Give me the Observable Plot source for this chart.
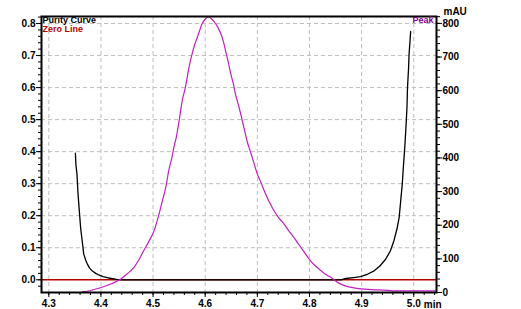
<!DOCTYPE html>
<html><head><meta charset="utf-8">
<script src="https://cdn.jsdelivr.net/npm/d3@7"></script>
<script src="https://cdn.jsdelivr.net/npm/@observablehq/plot@0.6"></script>
<style>body{margin:0;background:#fff}svg{display:block}</style>
</head><body><div id="chart"></div>
<script>
// Peak (right axis, mAU)
const peakTime = [4.364,4.380,4.399,4.420,4.438,4.450,4.463,4.472,4.482,4.492,4.502,4.510,4.518,4.525,4.530,4.536,4.540,4.545,4.550,4.556,4.562,4.569,4.575,4.580,4.585,4.590,4.594,4.600,4.606,4.612,4.620,4.625,4.630,4.635,4.639,4.644,4.649,4.654,4.658,4.665,4.671,4.676,4.681,4.686,4.690,4.695,4.700,4.707,4.713,4.722,4.732,4.741,4.751,4.760,4.770,4.778,4.786,4.794,4.802,4.812,4.822,4.832,4.841,4.850,4.860,4.870,4.885,4.905,4.925,4.943,4.960,5.000,5.042];
const peakMAU = [2,6,14,26,40,55,74,95,124,152,184,225,273,318,362,400,432,465,511,571,610,670,710,738,759,782,799,812,819,814,799,786,769,745,719,686,650,620,590,550,511,478,446,422,402,377,352,327,303,272,243,222,204,184,164,146,129,111,94,78,65,53,45,34,25,19,14,10,8,7,5,5,5];
// Purity curve (left axis)
const purityTime = [4.351,4.352,4.354,4.356,4.358,4.361,4.364,4.367,4.371,4.374,4.378,4.383,4.390,4.396,4.404,4.412,4.420,4.430,4.440,4.860,4.870,4.885,4.898,4.912,4.924,4.935,4.946,4.955,4.962,4.968,4.972,4.975,4.978,4.980,4.983,4.985,4.987,4.988,4.990,4.991,4.993,4.994];
const purityValue = [0.395,0.36,0.33,0.27,0.226,0.163,0.122,0.080,0.060,0.049,0.037,0.028,0.020,0.015,0.010,0.007,0.004,0.001,0,0,0.004,0.007,0.010,0.018,0.028,0.043,0.064,0.090,0.122,0.160,0.195,0.247,0.30,0.35,0.42,0.476,0.54,0.60,0.66,0.705,0.75,0.775];
const zeroLine = [0];
const xTicks = [4.3,4.4,4.5,4.6,4.7,4.8,4.9,5.0];
const leftTicks = [0,0.1,0.2,0.3,0.4,0.5,0.6,0.7,0.8];
const rightTicks = [0,100,200,300,400,500,600,700,800];
const legendPurity = ["Purity Curve"];
const legendZero = ["Zero Line"];
const legendPeak = ["Peak"];
const rightUnit = "mAU";
const xUnit = "min";

const xDom = [4.286, 5.0436];
const yLo = -0.0397, yHi = 0.8219, mauMax = 820.5;
const toLeft = m => yLo + m / mauMax * (yHi - yLo);
const fromLeft = v => (v - yLo) / (yHi - yLo) * mauMax;

const peak = peakTime.map((t,i) => ({t, v: toLeft(peakMAU[i])}));
const purity = purityTime.map((t,i) => ({t, v: purityValue[i]}));

const minorX = d3.range(4.28, 5.05, 0.02).filter(d => d >= xDom[0] && d <= xDom[1]);
const minorLeft = d3.range(-0.02, 0.821, 0.02).filter(d => d >= yLo && d <= yHi);
const minorRight = d3.range(0, 821, 20).map(toLeft);

const F = "Liberation Sans, Arial, sans-serif";
const gridStyle = {stroke: "#bdbdbd", strokeOpacity: 1, strokeDasharray: "4,3", strokeWidth: 1};
const legendStyle = {text: d => d, lineAnchor: "top", fontSize: 9, fontWeight: "bold", fontFamily: F};

const chart = Plot.plot({
  width: 521, height: 309,
  marginLeft: 41, marginRight: 85, marginTop: 16, marginBottom: 17,
  style: {fontFamily: F, fontWeight: "bold", fontSize: "10px", background: "#fff"},
  x: {domain: xDom},
  y: {domain: [yLo, yHi]},
  marks: [
    Plot.gridX(xTicks, gridStyle),
    Plot.gridY(leftTicks.filter(d => d > 0), gridStyle),
    Plot.ruleY(zeroLine, {stroke: "#b40000", strokeWidth: 1.5}),
    Plot.line(purity, {x: "t", y: "v", stroke: "#000", strokeWidth: 1.3}),
    Plot.line(peak, {x: "t", y: "v", stroke: "#c21ec2", strokeWidth: 1.2, curve: "monotone-x"}),
    Plot.frame({stroke: "#000", strokeWidth: 2}),
    Plot.axisX(xTicks, {anchor: "bottom", tickSize: 5, tickPadding: 2, tickFormat: d => d.toFixed(1), label: null, fontSize: 10, fontWeight: "bold", fontFamily: F}),
    Plot.axisX(minorX, {anchor: "bottom", tickSize: 3, tickFormat: () => "", label: null}),
    Plot.axisY(leftTicks, {anchor: "left", tickSize: 5, tickPadding: 1, tickFormat: d => d.toFixed(1), label: null, fontSize: 10, fontWeight: "bold", fontFamily: F}),
    Plot.axisY(minorLeft, {anchor: "left", tickSize: 3, tickFormat: () => "", label: null}),
    Plot.axisY(rightTicks.map(toLeft), {anchor: "right", tickSize: 5, tickPadding: 1, tickFormat: d => String(Math.round(fromLeft(d))), label: null, fontSize: 10, fontWeight: "bold", fontFamily: F}),
    Plot.axisY(minorRight, {anchor: "right", tickSize: 3, tickFormat: () => "", label: null}),
    Plot.text([xTicks[xTicks.length - 1]], {x: d => d, y: () => yLo, text: () => xUnit, dx: 10, dy: 8, textAnchor: "start", lineAnchor: "top", fontSize: 10, fontWeight: "bold", fill: "#000"}),
    Plot.text([rightUnit], {frameAnchor: "top-right", text: d => d, dx: 7, dy: -2, textAnchor: "start", lineAnchor: "bottom", fontSize: 10, fontWeight: "bold", fill: "#000"}),
    Plot.text(legendPurity, {...legendStyle, frameAnchor: "top-left", dx: 1, dy: 0, textAnchor: "start", fill: "#000"}),
    Plot.text(legendZero, {...legendStyle, frameAnchor: "top-left", dx: 1, dy: 9, textAnchor: "start", fill: "#b40000"}),
    Plot.text(legendPeak, {...legendStyle, frameAnchor: "top-right", dx: -3, dy: 0, textAnchor: "end", fill: "#8a0094"})
  ]
});
document.getElementById("chart").appendChild(chart);
</script>
</body></html>
